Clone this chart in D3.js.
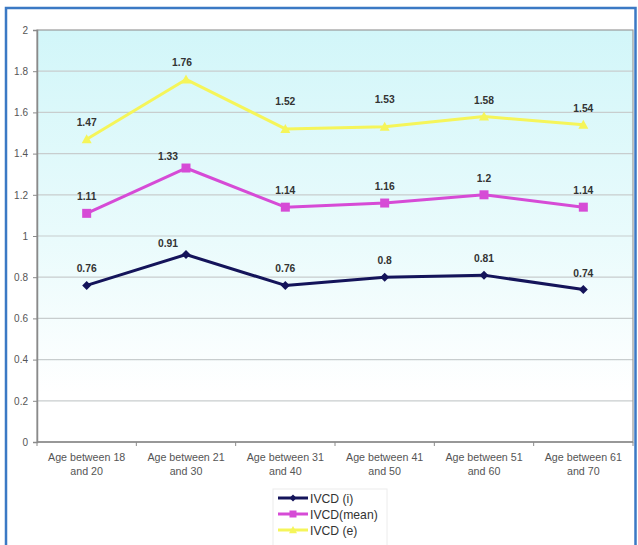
<!DOCTYPE html>
<html>
<head>
<meta charset="utf-8">
<script src="https://cdn.jsdelivr.net/npm/d3@7"></script>
<style>
  html, body { margin: 0; padding: 0; background: #fff; }
  svg { display: block; }
</style>
</head>
<body>
<svg id="chart" width="638" height="545"></svg>
<script>
// Age groups on the x axis (two-line labels)
const categories = [
  ["Age between 18", "and 20"],
  ["Age between 21", "and 30"],
  ["Age between 31", "and 40"],
  ["Age between 41", "and 50"],
  ["Age between 51", "and 60"],
  ["Age between 61", "and 70"]
];
const ivcdI    = [0.76, 0.91, 0.76, 0.8, 0.81, 0.74];
const ivcdMean = [1.11, 1.33, 1.14, 1.16, 1.2, 1.14];
const ivcdE    = [1.47, 1.76, 1.52, 1.53, 1.58, 1.54];
const yTicks   = [0, 0.2, 0.4, 0.6, 0.8, 1, 1.2, 1.4, 1.6, 1.8, 2];
const seriesNames = ["IVCD (i)", "IVCD(mean)", "IVCD (e)"];

const series = [
  { name: seriesNames[0], values: ivcdI,    color: "#14145a", marker: "diamond" },
  { name: seriesNames[1], values: ivcdMean, color: "#d64bd6", marker: "square" },
  { name: seriesNames[2], values: ivcdE,    color: "#f5f55a", marker: "triangle" }
];

const svg = d3.select("#chart");
const plot = { left: 37, top: 30, right: 633, bottom: 442 };
const font = "Arial, 'Liberation Sans', sans-serif";

// outer frame
svg.append("rect")
  .attr("x", 6).attr("y", 8).attr("width", 629.5).attr("height", 545)
  .attr("fill", "none").attr("stroke", "#3b79c4").attr("stroke-width", 2.5);

const defs = svg.append("defs");
const grad = defs.append("linearGradient")
  .attr("id", "bg").attr("x1", 0).attr("y1", 0).attr("x2", 0).attr("y2", 1);
grad.append("stop").attr("offset", "0%").attr("stop-color", "#d2f6f9");
grad.append("stop").attr("offset", "50%").attr("stop-color", "#e9fbfc");
grad.append("stop").attr("offset", "88%").attr("stop-color", "#ffffff");

const x = d3.scaleBand()
  .domain(d3.range(categories.length))
  .range([plot.left, plot.right]);
const y = d3.scaleLinear().domain([0, 2]).range([plot.bottom, plot.top]);

svg.append("rect")
  .attr("x", plot.left).attr("y", plot.top)
  .attr("width", plot.right - plot.left).attr("height", plot.bottom - plot.top)
  .attr("fill", "url(#bg)");

// horizontal gridlines
svg.append("g").selectAll("line")
  .data(yTicks.filter(t => t > 0 && t < 2))
  .join("line")
  .attr("x1", plot.left).attr("x2", plot.right)
  .attr("y1", d => y(d)).attr("y2", d => y(d))
  .attr("stroke", "#c8cdce").attr("stroke-width", 1.2);

// plot border
svg.append("rect")
  .attr("x", plot.left).attr("y", plot.top)
  .attr("width", plot.right - plot.left).attr("height", plot.bottom - plot.top)
  .attr("fill", "none").attr("stroke", "#9a9a9a").attr("stroke-width", 1.2);

// y axis
const yAxis = svg.append("g")
  .attr("transform", `translate(${plot.left},0)`)
  .call(d3.axisLeft(y).tickValues(yTicks).tickFormat(d3.format("~g")).tickSize(4).tickPadding(5));
yAxis.select(".domain").attr("stroke", "#8a8a8a").attr("stroke-width", 1.5);
yAxis.selectAll(".tick line").attr("stroke", "#8a8a8a");
yAxis.selectAll("text").attr("fill", "#555").style("font", `10px ${font}`);

// x axis with ticks at the category boundaries
const xAxisG = svg.append("g").attr("transform", `translate(0,${plot.bottom})`);
xAxisG.append("line")
  .attr("x1", plot.left).attr("x2", plot.right).attr("y1", 0).attr("y2", 0)
  .attr("stroke", "#8a8a8a").attr("stroke-width", 1.5);
xAxisG.selectAll("line.tk")
  .data(d3.range(categories.length + 1))
  .join("line").attr("class", "tk")
  .attr("x1", i => plot.left + i * x.bandwidth())
  .attr("x2", i => plot.left + i * x.bandwidth())
  .attr("y1", 0).attr("y2", 4)
  .attr("stroke", "#8a8a8a");
const catText = xAxisG.selectAll("text.cat")
  .data(categories)
  .join("text").attr("class", "cat")
  .attr("text-anchor", "middle")
  .attr("fill", "#555")
  .style("font", `10.7px ${font}`);
catText.each(function(d, i) {
  const t = d3.select(this);
  d.forEach((line, k) => {
    t.append("tspan")
      .attr("x", x(i) + x.bandwidth() / 2)
      .attr("y", 19 + k * 13.5)
      .text(line);
  });
});

const cx = i => x(i) + x.bandwidth() / 2;
const line = d3.line().x((d, i) => cx(i)).y(d => y(d));

function markerPath(type, s) {
  if (type === "diamond") return `M0,${-s}L${s},0L0,${s}L${-s},0Z`;
  if (type === "square") return `M${-s},${-s}H${s}V${s}H${-s}Z`;
  return `M0,${-s}L${s},${s * 0.8}L${-s},${s * 0.8}Z`;
}
const markerSize = { diamond: 4.5, square: 4.5, triangle: 5 };

// lines, drawn from the lowest series up
series.forEach(s => {
  svg.append("path")
    .datum(s.values)
    .attr("d", line)
    .attr("fill", "none")
    .attr("stroke", s.color)
    .attr("stroke-width", 3)
    .attr("stroke-linejoin", "round");
  svg.append("g").selectAll("path")
    .data(s.values)
    .join("path")
    .attr("transform", (d, i) => `translate(${cx(i)},${y(d)})`)
    .attr("d", markerPath(s.marker, markerSize[s.marker]))
    .attr("fill", s.color);
});

// value labels above each point
const labelShift = i => (i === 1 ? -18 : 0);
series.forEach((s, si) => {
  svg.append("g").selectAll("text")
    .data(s.values)
    .join("text")
    .attr("x", (d, i) => cx(i) + (si === 2 && i === 1 ? -4 : labelShift(i)))
    .attr("y", (d, i) => y(d) - (i === 1 && si < 2 ? 8 : (si === 2 && (i === 2 || i === 3) ? 24 : 13)))
    .attr("text-anchor", "middle")
    .attr("fill", "#333")
    .style("font", `bold 10.3px ${font}`)
    .text(d => d);
});

// legend
const lg = svg.append("g").attr("transform", "translate(273,489)");
lg.append("rect")
  .attr("width", 114).attr("height", 58)
  .attr("fill", "#fff").attr("stroke", "#ececec");
series.forEach((s, i) => {
  const row = lg.append("g").attr("transform", `translate(0,${9 + i * 16})`);
  row.append("line")
    .attr("x1", 5).attr("x2", 35).attr("y1", 0).attr("y2", 0)
    .attr("stroke", s.color).attr("stroke-width", 3);
  row.append("path")
    .attr("transform", "translate(20,0)")
    .attr("d", markerPath(s.marker, markerSize[s.marker] - 1))
    .attr("fill", s.color);
  row.append("text")
    .attr("x", 37).attr("y", 4.5)
    .attr("fill", "#333")
    .style("font", `12.2px ${font}`)
    .text(s.name);
});
</script>
</body>
</html>
